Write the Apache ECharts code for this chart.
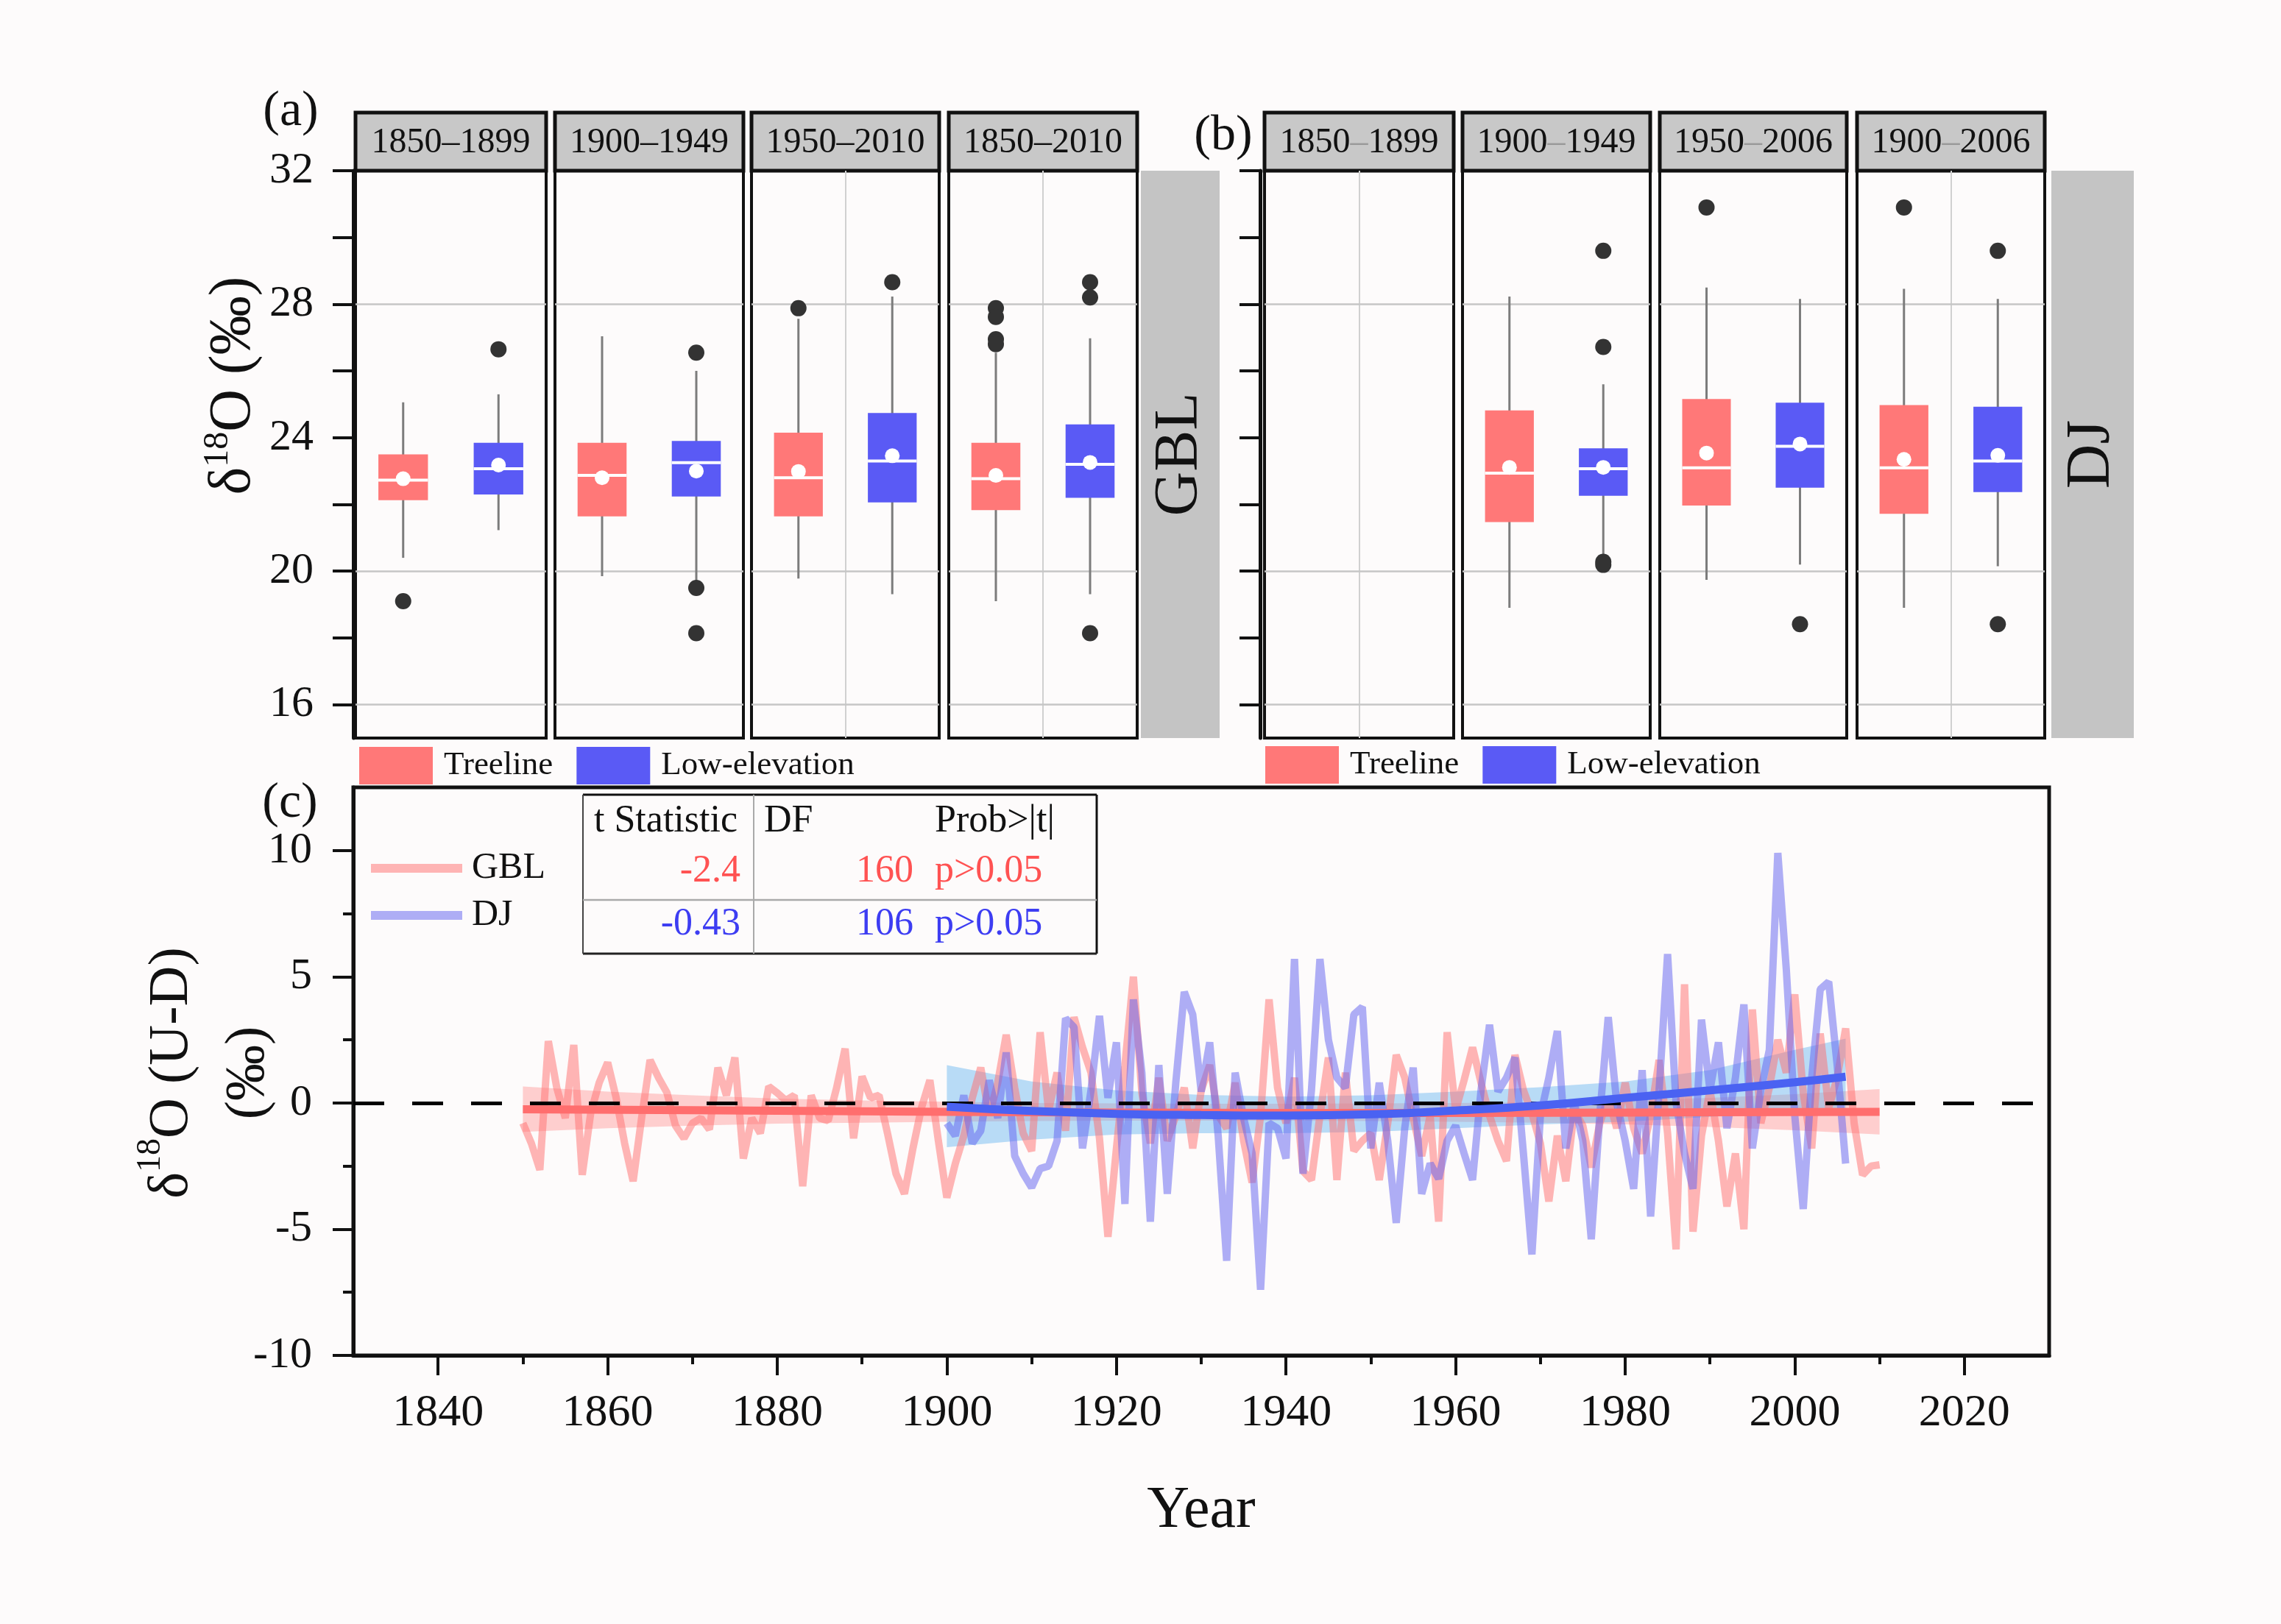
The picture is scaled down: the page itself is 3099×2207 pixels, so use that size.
<!DOCTYPE html>
<html>
<head>
<meta charset="utf-8" />
<title>Treeline vs low-elevation d18O</title>
<script src="https://cdn.jsdelivr.net/npm/echarts@6.0.0/dist/echarts.min.js"></script>
<style>
  html, body { margin: 0; padding: 0; background: #fdfbfb; }
  #main { width: 3099px; height: 2207px; }
</style>
</head>
<body>
<div id="main"></div>
<script type="text/javascript">
var FONT = "'Liberation Serif', 'DejaVu Serif', serif";
var RED = '#ff7878', BLUE = '#5a5af5';

// ---- (a) GBL boxplots, each box: [low whisker, Q1, median, Q3, high whisker]
var periodsA = ['1850–1899', '1900–1949', '1950–2010', '1850–2010'];
var gblTree = [[20.4, 22.13, 22.73, 23.5, 25.06], [19.85, 21.64, 22.87, 23.85, 27.04], [19.78, 21.64, 22.8, 24.15, 27.56], [19.1, 21.83, 22.77, 23.85, 26.55]];
var gblLow = [[21.23, 22.3, 23.07, 23.85, 25.3], [19.7, 22.24, 23.25, 23.9, 26.0], [19.31, 22.06, 23.3, 24.74, 28.23], [19.31, 22.2, 23.2, 24.4, 26.98]];
var gblTreeMean = [22.77, 22.8, 22.99, 22.87];
var gblLowMean = [23.18, 23.0, 23.46, 23.26];
var gblTreeOut = [[19.1], [], [27.88], [27.88, 27.62, 26.95, 26.8]];
var gblLowOut = [[26.65], [26.55, 19.5, 18.14], [28.66], [28.66, 28.2, 18.14]];

// ---- (b) DJ boxplots
var periodsB = ['1850–1899', '1900–1949', '1950–2006', '1900–2006'];
var djTree = [null, [18.9, 21.47, 22.94, 24.82, 28.23], [19.74, 21.97, 23.1, 25.16, 28.5], [18.9, 21.72, 23.1, 24.98, 28.46]];
var djLow = [null, [20.4, 22.26, 23.07, 23.68, 25.6], [20.2, 22.5, 23.74, 25.05, 28.16], [20.15, 22.37, 23.3, 24.93, 28.16]];
var djTreeMean = [null, 23.11, 23.54, 23.35];
var djLowMean = [null, 23.11, 23.81, 23.47];
var djTreeOut = [[], [], [30.9], [30.9]];
var djLowOut = [[], [29.6, 26.72, 20.28, 20.19], [18.41], [29.6, 18.41]];

var boxLabels = [16, 20, 24, 28, 32];
var boxTicks = [16, 18, 20, 22, 24, 26, 28, 30, 32];
var boxGridLines = [16, 20, 28];

// ---- (c) U-D differences
var gblStart = 1850;
var gblDiff = [
  -0.8, -1.6, -2.65, 2.45, 0.6, -0.6, 2.3, -2.85, -0.4, 0.8,
  1.6, 0.2, -1.6, -3.1, -0.6, 1.7, 1.0, 0.4, -0.9, -1.4,
  -0.8, -0.6, -1.05, 1.4, 0.3, 1.8, -2.2, -0.6, -1.2, 0.65,
  0.4, 0.1, 0.3, -3.3, 0.3, -0.6, -0.7, 0.6, 2.15, -1.4,
  1.05, 0.2, 0.3, -1.2, -2.8, -3.6, -1.8, -0.2, 0.9, -1.5,
  -3.75, -2.4, -1.3, 0.2, 1.4, -0.5, 0.8, 2.7, 0.6, -1.2,
  -1.9, 2.8, -0.3, 1.2, -1.1, 3.4, 2.2, 1.2, -1.4, -5.3,
  -1.8, 1.5, 5.0, 0.4, -1.6, 1.0, -1.5, -0.5, 0.6, -1.8,
  0.5, 1.5, -0.5, -1.0, 0.8, -1.5, -3.15, -0.5, 4.1, 0.6,
  -0.8, 1.0, -2.7, -3.05, -0.5, 1.8, -3.05, 1.2, -1.9, -1.5,
  -1.2, -3.05, -0.8, 1.9, 1.0, -0.6, -2.1, -0.5, -4.7, 2.8,
  -0.3, 0.9, 2.2, 0.8, -0.5, -1.5, -2.3, 1.9, 0.5, -0.4,
  -1.6, -3.9, -1.3, -3.1, -0.3, -0.9, -2.55, -0.8, 0.2, -1.0,
  0.8, -1.0, -2.0, -0.5, 1.7, -1.2, -5.8, 4.7, -5.1, -1.3,
  0.5, -1.5, -4.1, -2.0, -5.0, 3.7, -0.8, 0.6, 2.5, 1.2,
  4.3, 0.4, -1.8, 2.75, -0.2, 1.0, 2.95, -0.8, -2.85, -2.5,
  -2.45
];
var djStart = 1900;
var djDiff = [
  -0.8, -1.3, 0.3, -1.6, -1.1, 0.9, -0.6, 2.0, -2.1, -2.8,
  -3.35, -2.6, -2.5, -1.5, 3.35, 3.0, -1.8, 0.5, 3.45, 0.2,
  2.4, -4.0, 4.1, 1.2, -4.7, 1.5, -3.6, 0.8, 4.4, 3.5,
  0.45, 2.4, -1.3, -6.25, 1.2, -0.6, -2.0, -7.4, -0.8, -1.0,
  -2.2, 5.7, -2.8, 0.5, 5.7, 2.5, 1.0, 0.6, 3.5, 3.8,
  -1.8, 0.8, -1.5, -4.75, -1.0, 1.4, -3.6, -2.4, -3.0, -1.5,
  -0.9, -2.0, -3.05, 0.5, 3.1, 0.45, 1.0, 1.8, -2.0, -6.0,
  -0.5, 1.0, 2.85, -1.8, 0.0, -1.5, -5.4, -0.5, 3.4, 0.0,
  -1.5, -3.4, 1.3, -4.5, 0.5, 5.9, 0.0, -2.0, -3.4, 3.3,
  0.5, 2.4, -1.0, 1.0, 3.9, -1.8, 0.5, 2.1, 9.9, 5.3,
  -0.5, -4.2, 1.0, 4.5, 4.8, 1.5, -2.4
];
var gblFitYears = [1850, 1870, 1890, 1910, 1930, 1950, 1970, 1990, 2010];
var gblFit = [-0.25, -0.29, -0.33, -0.37, -0.39, -0.4, -0.39, -0.37, -0.35];
var gblBandYears = [1850, 1860, 1870, 1880, 1890, 1900, 1910, 1920, 1930, 1940, 1950, 1960, 1970, 1980, 1990, 2000, 2010];
var gblBandLo = [-1.15, -1.0, -0.9, -0.82, -0.78, -0.75, -0.72, -0.7, -0.7, -0.7, -0.72, -0.75, -0.78, -0.85, -0.95, -1.08, -1.25];
var gblBandHi = [0.65, 0.45, 0.3, 0.17, 0.1, 0.05, 0.0, -0.02, -0.03, -0.03, -0.02, 0.0, 0.03, 0.1, 0.2, 0.35, 0.55];
var djFitYears = [1900, 1910, 1920, 1930, 1940, 1950, 1960, 1970, 1980, 1990, 2000, 2006];
var djFit = [-0.15, -0.32, -0.43, -0.48, -0.5, -0.45, -0.3, -0.1, 0.2, 0.5, 0.82, 1.04];
var djBandLo = [-1.75, -1.45, -1.25, -1.2, -1.2, -1.15, -1.0, -0.85, -0.75, -0.55, -0.4, -0.3];
var djBandHi = [1.5, 0.85, 0.5, 0.32, 0.25, 0.3, 0.45, 0.62, 0.85, 1.3, 2.1, 2.55];

var tNames = ['GBL', 'DJ'];
var tStat = ['-2.4', '-0.43'];
var tDF = ['160', '106'];
var tProb = ['p>0.05', 'p>0.05'];
var tColors = ['#ff5252', '#3d3df2'];

var yearMajor = [1840, 1860, 1880, 1900, 1920, 1940, 1960, 1980, 2000, 2020];
var yearMinor = [1850, 1870, 1890, 1910, 1930, 1950, 1970, 1990, 2010];
var diffMajor = [-10, -5, 0, 5, 10];
var diffMinor = [-7.5, -2.5, 2.5, 7.5];

// ---- layout (pixels)
var boxTop = 232, boxBottom = 1003, stripTop = 153;
var facetX = [
  [[483, 742], [754, 1010], [1021, 1276], [1289, 1545]],
  [[1718, 1975], [1987, 2242], [2255, 2509], [2523, 2778]]
];
var vGrid = [[false, false, true, true], [true, false, false, true]];
var sideStrip = [[1550, 1657, 'GBL'], [2787, 2899, 'DJ']];

function pairs(start, vals) {
  return vals.map(function (v, i) { return [start + i, v]; });
}
function zip(xs, ys) {
  return xs.map(function (x, i) { return [x, ys[i]]; });
}
function plain(v) { return String(v); }

function drawBox(params, api) {
  var c = api.value(0);
  var lo = api.coord([c, api.value(1)]);
  var q1 = api.coord([c, api.value(2)]);
  var md = api.coord([c, api.value(3)]);
  var q3 = api.coord([c, api.value(4)]);
  var hi = api.coord([c, api.value(5)]);
  var mn = api.coord([c, api.value(6)]);
  var bw = api.size([1, 0])[0] * 0.52;
  return {
    type: 'group',
    children: [
      { type: 'line', shape: { x1: lo[0], y1: lo[1], x2: hi[0], y2: hi[1] }, style: { stroke: '#7c7c7c', lineWidth: 3 } },
      { type: 'rect', shape: { x: q3[0] - bw / 2, y: q3[1], width: bw, height: q1[1] - q3[1] }, style: { fill: api.visual('color') } },
      { type: 'line', shape: { x1: md[0] - bw / 2, y1: md[1], x2: md[0] + bw / 2, y2: md[1] }, style: { stroke: '#fff', lineWidth: 4 } },
      { type: 'circle', shape: { cx: mn[0], cy: mn[1], r: 10 }, style: { fill: '#fff' } }
    ]
  };
}

// confidence band: one polygon through all (year, lo) / (year, hi) points
function bandSeries(name, years, lo, hi, color) {
  return {
    type: 'custom', name: name, xAxisIndex: 8, yAxisIndex: 8, z: 1, silent: true,
    encode: { x: 0, y: [1, 2] },
    data: years.map(function (y, i) { return [y, lo[i], hi[i]]; }),
    renderItem: function (params, api) {
      if (params.dataIndex !== 0) return null;
      var top = [], bot = [];
      for (var i = 0; i < years.length; i++) {
        top.push(api.coord([years[i], hi[i]]));
        bot.unshift(api.coord([years[i], lo[i]]));
      }
      return { type: 'polygon', shape: { points: top.concat(bot) }, style: { fill: color } };
    }
  };
}

var panels = [
  { periods: periodsA, tree: gblTree, low: gblLow, treeMean: gblTreeMean, lowMean: gblLowMean, treeOut: gblTreeOut, lowOut: gblLowOut },
  { periods: periodsB, tree: djTree, low: djLow, treeMean: djTreeMean, lowMean: djLowMean, treeOut: djTreeOut, lowOut: djLowOut }
];

var grids = [], xAxes = [], yAxes = [], series = [], graphics = [];

panels.forEach(function (p, pi) {
  for (var f = 0; f < 4; f++) {
    var gi = pi * 4 + f;
    var x0 = facetX[pi][f][0], x1 = facetX[pi][f][1];
    grids.push({ left: x0, top: boxTop, width: x1 - x0, height: boxBottom - boxTop, show: true, borderColor: '#111', borderWidth: 4, backgroundColor: 'transparent' });
    xAxes.push({
      type: 'category', gridIndex: gi, data: ['Treeline', 'Low-elevation'],
      axisLine: { show: false }, axisTick: { show: false }, axisLabel: { show: false },
      splitLine: { show: vGrid[pi][f], showMinLine: false, showMaxLine: false, lineStyle: { color: '#d0d0d0', width: 2 } }
    });
    var first = f === 0;
    yAxes.push({
      type: 'value', gridIndex: gi, min: 15, max: 32, show: first,
      offset: pi === 0 ? 3 : 6,
      axisLine: { show: true, lineStyle: { color: '#111', width: 5 } },
      axisTick: { show: true, customValues: boxTicks, length: 28, lineStyle: { color: '#111', width: 4 } },
      axisLabel: { show: pi === 0, customValues: boxLabels, fontSize: 60, fontFamily: FONT, color: '#111', margin: 54 },
      splitLine: { show: false }
    });
    series.push({
      type: 'custom', name: 'Treeline', xAxisIndex: gi, yAxisIndex: gi, renderItem: drawBox, z: 2,
      itemStyle: { color: RED }, encode: { x: 0, y: [1, 2, 3, 4, 5, 6] },
      data: p.tree[f] ? [[0].concat(p.tree[f], [p.treeMean[f]])] : []
    });
    series.push({
      type: 'custom', name: 'Low-elevation', xAxisIndex: gi, yAxisIndex: gi, renderItem: drawBox, z: 2,
      itemStyle: { color: BLUE }, encode: { x: 0, y: [1, 2, 3, 4, 5, 6] },
      data: p.low[f] ? [[1].concat(p.low[f], [p.lowMean[f]])] : []
    });
    series.push({
      type: 'scatter', name: 'outliers', xAxisIndex: gi, yAxisIndex: gi, symbolSize: 22, z: 3,
      itemStyle: { color: '#333', opacity: 1 },
      data: p.treeOut[f].map(function (v) { return [0, v]; }).concat(p.lowOut[f].map(function (v) { return [1, v]; })),
      markLine: {
        silent: true, symbol: 'none', z: 1, animation: false, label: { show: false },
        lineStyle: { color: '#c6c6c6', width: 2.5, type: 'solid' },
        data: boxGridLines.map(function (v) { return { yAxis: v }; })
      }
    });
    // strip header
    var parts = p.periods[f].split('–');
    graphics.push({ type: 'rect', shape: { x: x0, y: stripTop, width: x1 - x0, height: boxTop - stripTop }, style: { fill: '#c8c8c8', stroke: '#111', lineWidth: 5 } });
    graphics.push({
      type: 'text', x: (x0 + x1) / 2, y: (stripTop + boxTop) / 2 + 2,
      style: {
        text: '{n|' + parts[0] + '}{d|–}{n|' + parts[1] + '}',
        align: 'center', verticalAlign: 'middle', fill: '#111',
        rich: { n: { fontSize: 48, fontFamily: FONT, fill: '#111' }, d: { fontSize: 48, fontFamily: FONT, fill: pi === 0 ? '#111' : '#9a9a9a' } }
      }
    });
  }
  var s = sideStrip[pi];
  graphics.push({ type: 'rect', shape: { x: s[0], y: boxTop, width: s[1] - s[0], height: boxBottom - boxTop }, style: { fill: '#c4c4c4' } });
  graphics.push({ type: 'text', x: (s[0] + s[1]) / 2, y: (boxTop + boxBottom) / 2, rotation: Math.PI / 2,
    style: { text: s[2], fontSize: 84, fontFamily: FONT, fill: '#111', align: 'center', verticalAlign: 'middle' } });
});

// ---- panel (c)
var gc = 8;
grids.push({ left: 480, top: 1070, width: 2304, height: 772, show: true, borderColor: '#111', borderWidth: 5, backgroundColor: 'transparent' });
xAxes.push({
  type: 'value', gridIndex: gc, min: 1830, max: 2030, position: 'bottom',
  axisLine: { onZero: false, lineStyle: { color: '#111', width: 5 } },
  axisTick: { customValues: yearMajor, length: 27, lineStyle: { color: '#111', width: 4 } },
  axisLabel: { customValues: yearMajor, formatter: plain, fontSize: 62, fontFamily: FONT, color: '#111', margin: 48 },
  splitLine: { show: false },
  name: 'Year', nameLocation: 'middle', nameGap: 172,
  nameTextStyle: { fontSize: 80, fontFamily: FONT, color: '#111' }
});
xAxes.push({
  type: 'value', gridIndex: gc, min: 1830, max: 2030, position: 'bottom',
  axisLine: { show: false, onZero: false },
  axisTick: { customValues: yearMinor, length: 12, lineStyle: { color: '#111', width: 4 } },
  axisLabel: { show: false }, splitLine: { show: false }
});
yAxes.push({
  type: 'value', gridIndex: gc, min: -10, max: 12.5, position: 'left',
  axisLine: { show: true, onZero: false, lineStyle: { color: '#111', width: 5 } },
  axisTick: { customValues: diffMajor, length: 28, lineStyle: { color: '#111', width: 4 } },
  axisLabel: { customValues: diffMajor, formatter: plain, fontSize: 60, fontFamily: FONT, color: '#111', margin: 56 },
  splitLine: { show: false }
});
yAxes.push({
  type: 'value', gridIndex: gc, min: -10, max: 12.5, position: 'left',
  axisLine: { show: false, onZero: false },
  axisTick: { customValues: diffMinor, length: 14, lineStyle: { color: '#111', width: 4 } },
  axisLabel: { show: false }, splitLine: { show: false }
});

series.push(bandSeries('GBL band', gblBandYears, gblBandLo, gblBandHi, 'rgba(255,120,120,0.34)'));
series.push(bandSeries('DJ band', djFitYears, djBandLo, djBandHi, 'rgba(100,180,240,0.45)'));

series.push({
  type: 'line', name: 'GBL', xAxisIndex: 8, yAxisIndex: 8, symbol: 'none', z: 3,
  lineStyle: { color: 'rgba(255,110,110,0.5)', width: 10 }, itemStyle: { color: 'rgba(255,110,110,0.5)' },
  data: pairs(gblStart, gblDiff),
  markLine: {
    silent: true, symbol: 'none', z: 5, animation: false, label: { show: false },
    lineStyle: { color: '#000', width: 5, type: [42, 38] },
    data: [{ yAxis: 0 }]
  }
});
series.push({
  type: 'line', name: 'DJ', xAxisIndex: 8, yAxisIndex: 8, symbol: 'none', z: 3,
  lineStyle: { color: 'rgba(95,95,240,0.5)', width: 10 }, itemStyle: { color: 'rgba(95,95,240,0.5)' },
  data: pairs(djStart, djDiff)
});
series.push({
  type: 'line', name: 'GBL fit', xAxisIndex: 8, yAxisIndex: 8, symbol: 'none', smooth: true, z: 6,
  lineStyle: { color: '#ff6e6e', width: 11 }, data: zip(gblFitYears, gblFit)
});
series.push({
  type: 'line', name: 'DJ fit', xAxisIndex: 8, yAxisIndex: 8, symbol: 'none', smooth: true, z: 6,
  lineStyle: { color: '#4a62f2', width: 11 }, data: zip(djFitYears, djFit)
});

// panel letters
[['(a)', 395, 152], ['(b)', 1662, 185], ['(c)', 394, 1092]].forEach(function (t) {
  graphics.push({ type: 'text', x: t[1], y: t[2], style: { text: t[0], fontSize: 68, fontFamily: FONT, fill: '#111', align: 'center', verticalAlign: 'middle' } });
});

// y axis titles
graphics.push({
  type: 'text', x: 318, y: 524, rotation: Math.PI / 2,
  style: {
    text: '{a|δ}{s|18}{a|O (‰)}', align: 'center', verticalAlign: 'middle', fill: '#111',
    rich: { a: { fontSize: 80, fontFamily: FONT, lineHeight: 92, fill: '#111' }, s: { fontSize: 48, fontFamily: FONT, lineHeight: 56, verticalAlign: 'top', fill: '#111' } }
  }
});
graphics.push({
  type: 'text', x: 286, y: 1458, rotation: Math.PI / 2,
  style: {
    text: '{a|δ}{s|18}{a|O (U-D)}\n{a|(‰)}', align: 'center', verticalAlign: 'middle', fill: '#111',
    rich: { a: { fontSize: 76, fontFamily: FONT, lineHeight: 104, fill: '#111' }, s: { fontSize: 46, fontFamily: FONT, lineHeight: 70, verticalAlign: 'top', fill: '#111' } }
  }
});

// t-test table
var tb = { l: 792, r: 1490, t: 1080, b: 1296, mid: 1223, sep: 1024 };
[[tb.l, tb.t, tb.r, tb.t, '#111', 3], [tb.r, tb.t, tb.r, tb.b, '#111', 3], [tb.l, tb.b, tb.r, tb.b, '#222', 3],
 [tb.l, tb.t, tb.l, tb.b, '#444', 2], [tb.sep, tb.t, tb.sep, tb.b, '#aaa', 2], [tb.l, tb.mid, tb.r, tb.mid, '#aaa', 2.5]
].forEach(function (l) {
  graphics.push({ type: 'line', shape: { x1: l[0], y1: l[1], x2: l[2], y2: l[3] }, style: { stroke: l[4], lineWidth: l[5] } });
});
function cell(text, x, y, align, color) {
  graphics.push({ type: 'text', x: x, y: y, style: { text: text, fontSize: 52, fontFamily: FONT, fill: color, align: align, verticalAlign: 'middle' } });
}
cell('t Statistic', 807, 1116, 'left', '#111');
cell('DF', 1038, 1116, 'left', '#111');
cell('Prob>|t|', 1270, 1116, 'left', '#111');
tNames.forEach(function (n, i) {
  var y = i === 0 ? 1184 : 1256;
  cell(tStat[i], 1006, y, 'right', tColors[i]);
  cell(tDF[i], 1241, y, 'right', tColors[i]);
  cell(tProb[i], 1270, y, 'left', tColors[i]);
});

var myChart = echarts.init(document.getElementById('main'));
myChart.setOption({
  backgroundColor: '#fdfbfb',
  animation: false,
  grid: grids,
  xAxis: xAxes,
  yAxis: yAxes,
  legend: [
    { data: ['Treeline', 'Low-elevation'], left: 483, top: 1010, icon: 'rect', itemWidth: 100, itemHeight: 51, itemGap: 32, selectedMode: false,
      textStyle: { fontSize: 45, fontFamily: FONT, color: '#111', padding: [0, 0, 0, 10] } },
    { data: ['Treeline', 'Low-elevation'], left: 1714, top: 1009, icon: 'rect', itemWidth: 100, itemHeight: 51, itemGap: 32, selectedMode: false,
      textStyle: { fontSize: 45, fontFamily: FONT, color: '#111', padding: [0, 0, 0, 10] } },
    { data: ['GBL', 'DJ'], left: 499, top: 1150, orient: 'vertical', icon: 'rect', itemWidth: 124, itemHeight: 12, itemGap: 14, selectedMode: false,
      textStyle: { fontSize: 50, fontFamily: FONT, color: '#111', padding: [0, 0, 0, 8] } }
  ],
  graphic: graphics,
  series: series
});
</script>
</body>
</html>
